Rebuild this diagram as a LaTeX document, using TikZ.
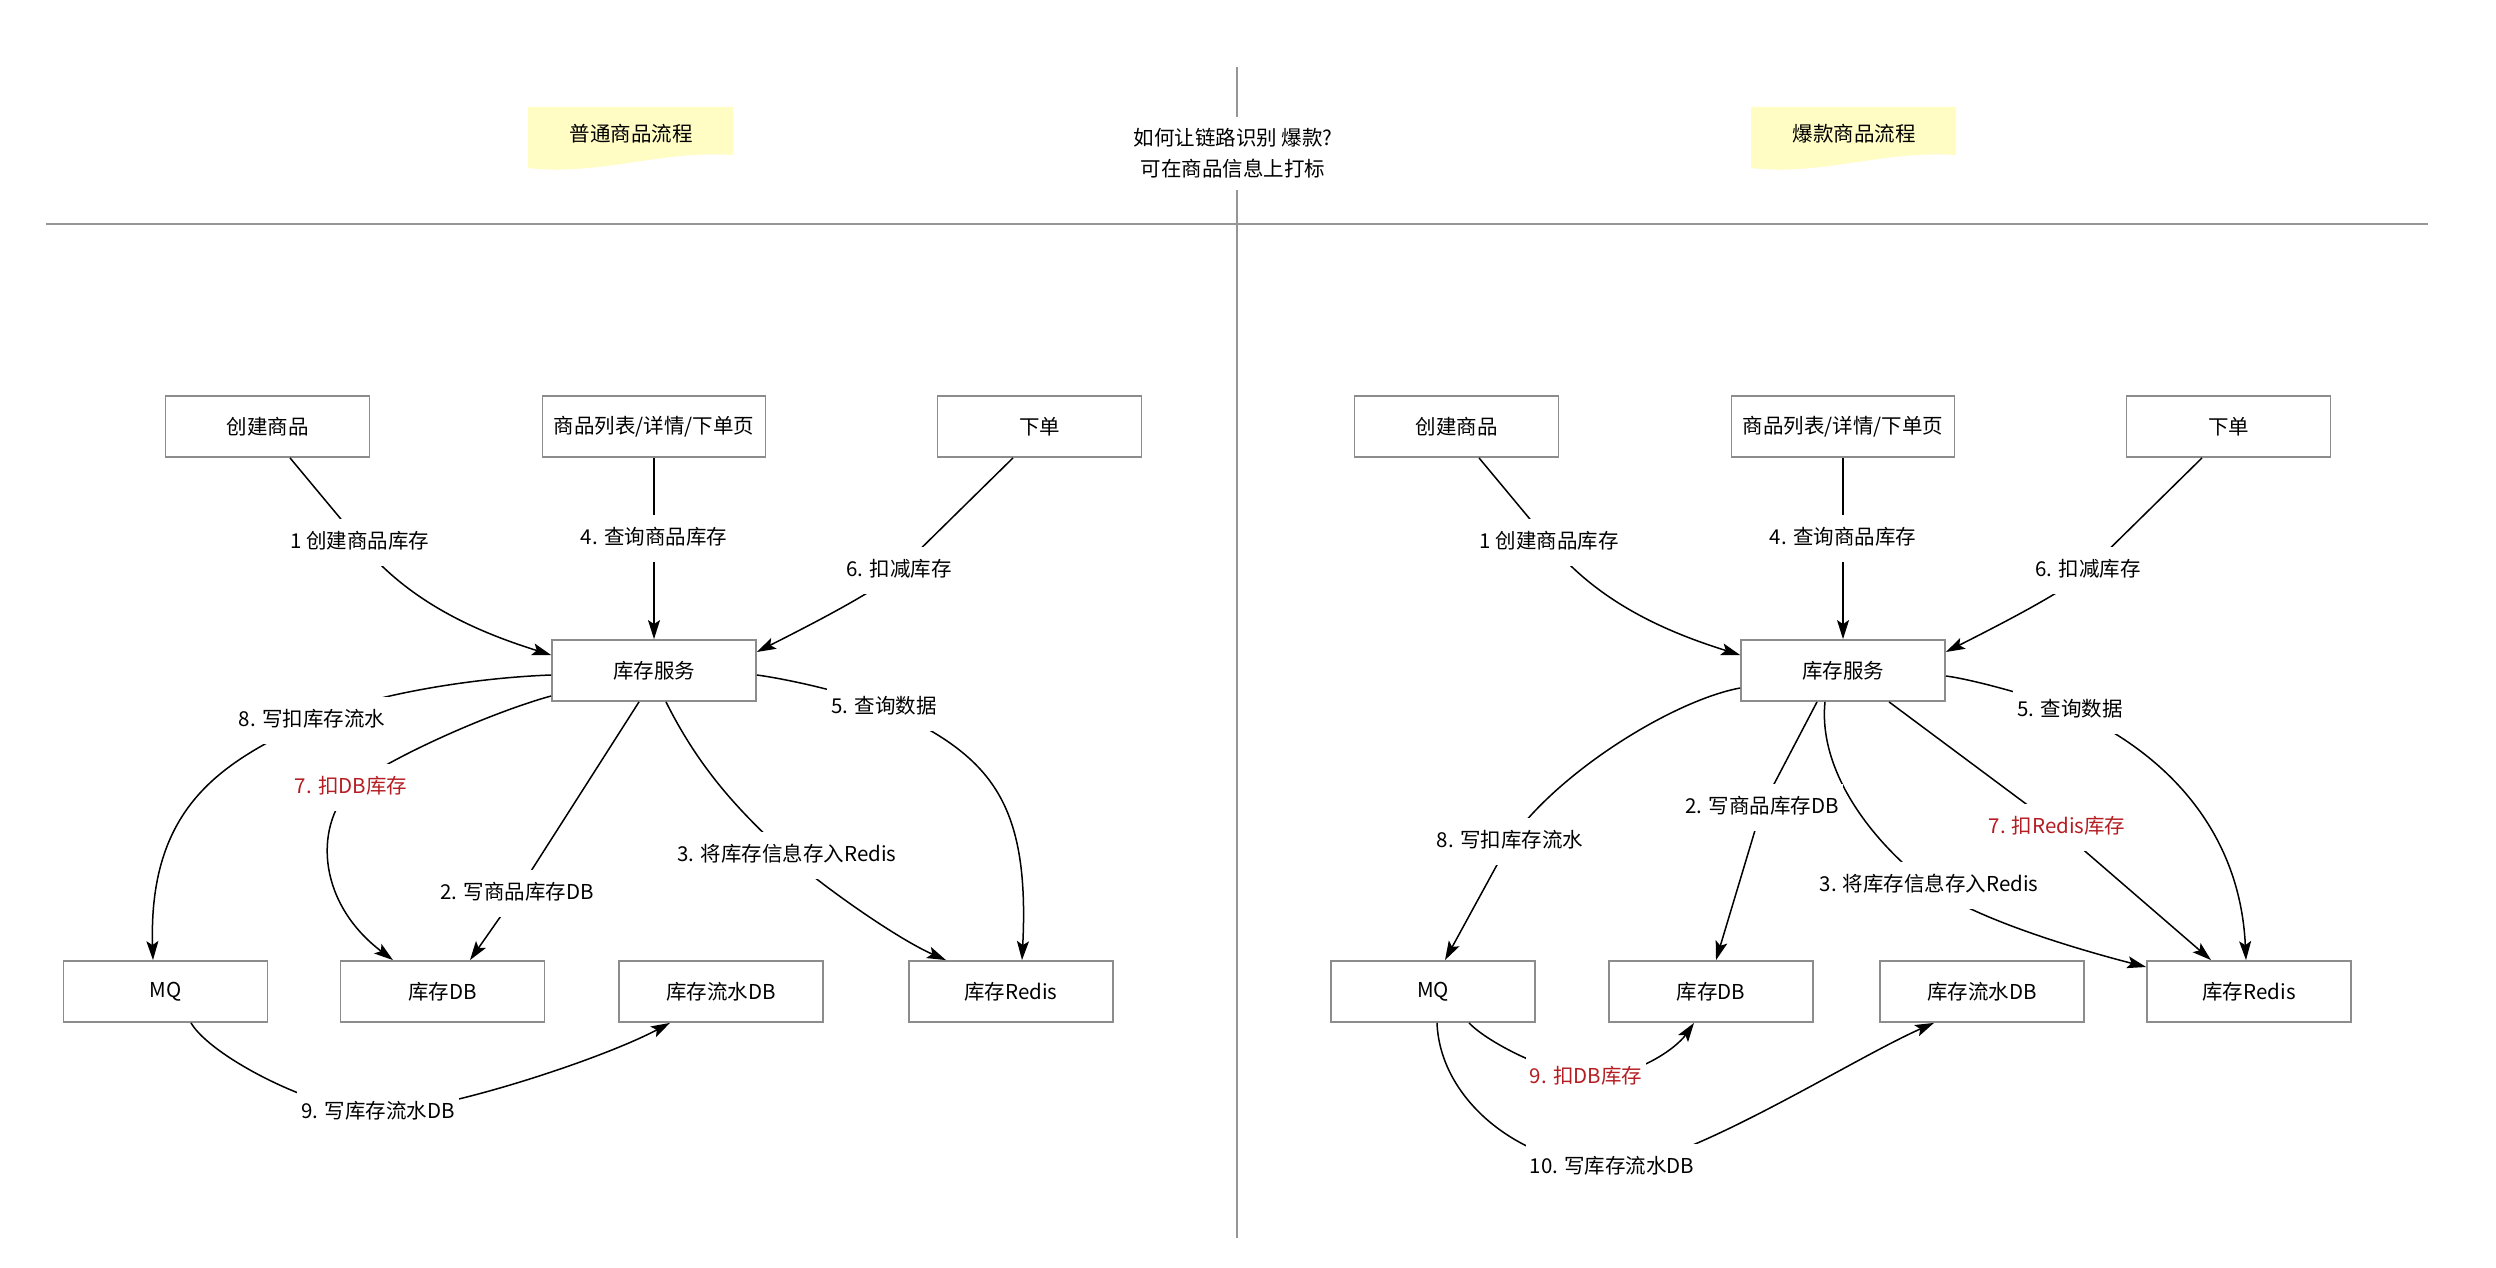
\documentclass[tikz,border=0pt]{standalone}
\usepackage{fontspec}
\setmainfont{Noto Sans CJK SC}
\usetikzlibrary{arrows.meta,calc}
\definecolor{boxgray}{RGB}{140,140,140}
\definecolor{sepgray}{RGB}{150,150,150}
\definecolor{notey}{RGB}{255,252,196}
\definecolor{lblred}{RGB}{180,30,35}
\begin{document}
\begin{tikzpicture}[x=1pt,y=-1pt,
  every node/.style={font=\fontsize{20.5}{25}\selectfont},
  box/.style={draw=boxgray,line width=1.8pt,fill=white,minimum width=204pt,minimum height=61pt,inner sep=0pt},
  lbl/.style={fill=white,inner xsep=4pt,inner ysep=13pt,text height=17pt,text depth=4pt},
  redlbl/.style={lbl,text=lblred},
  arr/.style={line width=1.5pt,-{Stealth[length=19pt,width=12pt,inset=4pt]}},
  sepline/.style={draw=sepgray,line width=2pt},
  note/.style={fill=notey}]
\useasboundingbox[fill=white] (0,0) rectangle (2496,1268);

% separators
\draw[sepline] (46,224) -- (2428,224);
\draw[sepline] (1237,67) -- (1237,1238);
\node[fill=white,align=center,inner xsep=6pt,inner ysep=12pt,font=\fontsize{20.5}{31}\selectfont] (q) at (1233,153.5) {如何让链路识别 爆款?\\可在商品信息上打标};

% sticky notes
\fill[note] (528,107) -- (733,107) -- (733,155) .. controls (660,150) and (600,176) .. (528,168) -- cycle;
\node (t1) at (631,134) {普通商品流程};
\fill[note] (1751,107) -- (1956,107) -- (1956,155) .. controls (1883,150) and (1823,176) .. (1751,168) -- cycle;
\node (t2) at (1854,134) {爆款商品流程};

% top part (same on both sides)
\foreach \s/\dx in {L/0,R/1189}{
\begin{scope}[xshift=\dx]
  \node[box] (cj\s) at (267.5,426.5) {创建商品};
  \node[box,minimum width=223pt] (lb\s) at (654,426.5) {商品列表/详情/下单页};
  \node[box] (xd\s) at (1039.5,426.5) {下单};
  \node[box] (kc\s) at (654,670.5) {库存服务};
  \draw[arr] ([xshift=22.5pt]cj\s.south) -- (360,542) node[lbl]{1 创建商品库存}
     .. controls (410,604) and (481,633) .. ([yshift=15.5pt]kc\s.west);
  \draw[arr] (lb\s.south) -- (654,538) node[lbl]{4. 查询商品库存} -- (kc\s.north);
  \draw[arr] ([xshift=-26.5pt]xd\s.south) -- (899,570) node[lbl]{6. 扣减库存}
     .. controls (880,590) and (800,630) .. ([yshift=18.5pt]kc\s.east);
\end{scope}
}

% bottom nodes left
\node[box] (mqL) at (165.5,991.5) {MQ};
\node[box] (dbL) at (442.5,991.5) {库存DB};
\node[box] (lsL) at (721,991.5) {库存流水DB};
\node[box] (rdL) at (1011,991.5) {库存Redis};

% bottom nodes right
\node[box] (mqR) at (1433,991.5) {MQ};
\node[box] (dbR) at (1711,991.5) {库存DB};
\node[box] (lsR) at (1982,991.5) {库存流水DB};
\node[box] (rdR) at (2249,991.5) {库存Redis};

% left edges
\draw[arr] ([yshift=-4.5pt]kcL.west) .. controls (470,678) and (370,695) .. (312,720) node[lbl]{8. 写扣库存流水}
   .. controls (230,760) and (148,800) .. ([xshift=-12.5pt]mqL.north);
\draw[arr] ([yshift=-25.5pt]kcL.west) .. controls (496,711) and (396,754) .. (351,787) node[redlbl]{7. 扣DB库存}
   .. controls (312,830) and (320,905) .. ([xshift=-49.5pt]dbL.north);
\draw[arr] ([xshift=-15pt]kcL.south) -- (517,893) node[lbl]{2. 写商品库存DB} -- ([xshift=27.5pt]dbL.north);
\draw[arr] ([xshift=12pt]kcL.south) .. controls (700,770) and (740,812) .. (787,855) node[lbl]{3. 将库存信息存入Redis}
   .. controls (830,892) and (900,940) .. ([xshift=-65pt]rdL.north);
\draw[arr] ([yshift=-4.5pt]kcL.east) .. controls (780,678) and (840,690) .. (884,707) node[lbl]{5. 查询数据}
   .. controls (990,755) and (1030,800) .. ([xshift=11pt]rdL.north);
\draw[arr] ([xshift=25.5pt]mqL.south) .. controls (211,1057) and (318,1112) .. (378,1112) node[lbl]{9. 写库存流水DB}
   .. controls (440,1112) and (600,1060) .. ([xshift=-51pt]lsL.south);

% right edges
\draw[arr] ([yshift=-17.5pt]kcR.west) .. controls (1675,700) and (1560,770) .. (1510,841) node[lbl]{8. 写扣库存流水}
   -- ([xshift=12pt]mqR.north);
\draw[arr] ([xshift=-18pt]kcR.south) .. controls (1818,770) and (1870,840) .. (1929,885) node[lbl]{3. 将库存信息存入Redis}
   .. controls (1974,919) and (2080,950) .. ([yshift=24.5pt]rdR.west);
\draw[arr] ([xshift=-26pt]kcR.south) -- (1762,807) node[lbl]{2. 写商品库存DB} -- ([xshift=5pt]dbR.north);
\draw[arr] ([xshift=46pt]kcR.south) -- (2057,827) node[redlbl]{7. 扣Redis库存} -- ([xshift=-38pt]rdR.north);
\draw[arr] ([yshift=-5.5pt]kcR.east) .. controls (1970,679) and (2030,695) .. (2070,710) node[lbl]{5. 查询数据}
   .. controls (2165,752) and (2240,830) .. ([xshift=-3pt]rdR.north);
\draw[arr] ([xshift=36pt]mqR.south) .. controls (1485,1040) and (1540,1070) .. (1586,1077) node[redlbl]{9. 扣DB库存}
   .. controls (1630,1080) and (1675,1050) .. ([xshift=-17pt]dbR.south);
\draw[arr] ([xshift=4pt]mqR.south) .. controls (1440,1100) and (1520,1165) .. (1612,1167) node[lbl]{10. 写库存流水DB}
   .. controls (1680,1169) and (1850,1060) .. ([xshift=-48pt]lsR.south);
\end{tikzpicture}
\end{document}
